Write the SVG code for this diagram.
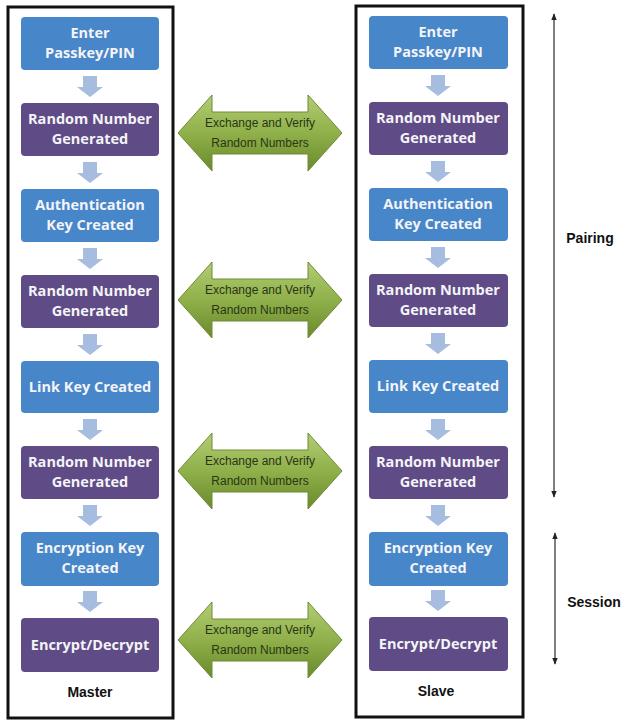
<svg xmlns="http://www.w3.org/2000/svg" width="632" height="726" viewBox="0 0 632 726">
<defs>
<linearGradient id="g" x1="0" y1="0" x2="0" y2="1">
<stop offset="0" stop-color="#b3cd74"/>
<stop offset="0.5" stop-color="#8fb04a"/>
<stop offset="1" stop-color="#6a8a2c"/>
</linearGradient>
<marker id="ah" viewBox="0 0 10 10" refX="9" refY="5" markerWidth="7" markerHeight="7" orient="auto-start-reverse" markerUnits="userSpaceOnUse">
<path d="M0,1 L10,5 L0,9 Z" fill="#222"/>
</marker>
<path id="xa" d="M0,0 L34,-38 L34,-21 L130,-21 L130,-38 L164,0 L130,38 L130,21 L34,21 L34,38 Z"/>
<path id="da" d="M-7,0 L7,0 L7,11 L13,11 L0,21 L-13,11 L-7,11 Z"/>
</defs>
<style>
.frame{fill:#fff;stroke:#111;stroke-width:3}
.blue{fill:#4786c8}
.purple{fill:#5f4b85}
.nt{font-family:"Open Sans","Liberation Sans",sans-serif;font-weight:700;font-size:14.5px;fill:#f4f4f8;text-anchor:middle}
.xt{font-family:"Liberation Sans",sans-serif;font-size:12px;fill:#2a3514;text-anchor:middle}
.lbl{font-family:"Liberation Sans",Arial,sans-serif;font-weight:700;font-size:14px;fill:#111;text-anchor:middle}
.down{fill:#a7bddf}
.xa{fill:url(#g);stroke:#6f8b34;stroke-width:1}
.dim{stroke:#555;stroke-width:1.5;fill:none}
</style>

<rect class="frame" x="8" y="7" width="165" height="711"/>
<rect class="frame" x="356" y="6" width="167" height="711"/>

<g id="connectors">
<use href="#da" class="down" x="90" y="76"/>
<use href="#da" class="down" x="90" y="162"/>
<use href="#da" class="down" x="90" y="248"/>
<use href="#da" class="down" x="90" y="334"/>
<use href="#da" class="down" x="90" y="419"/>
<use href="#da" class="down" x="90" y="505"/>
<use href="#da" class="down" x="90" y="591"/>
<use href="#da" class="down" x="438" y="75"/>
<use href="#da" class="down" x="438" y="161"/>
<use href="#da" class="down" x="438" y="247"/>
<use href="#da" class="down" x="438" y="333"/>
<use href="#da" class="down" x="438" y="419"/>
<use href="#da" class="down" x="438" y="505"/>
<use href="#da" class="down" x="438" y="590"/>
</g>

<g id="exchange1"><use href="#xa" class="xa" x="178" y="133"/><text class="xt" x="260" y="127">Exchange and Verify</text><text class="xt" x="260" y="147">Random Numbers</text></g>
<g id="exchange2"><use href="#xa" class="xa" x="178" y="300"/><text class="xt" x="260" y="294">Exchange and Verify</text><text class="xt" x="260" y="314">Random Numbers</text></g>
<g id="exchange3"><use href="#xa" class="xa" x="178" y="471"/><text class="xt" x="260" y="465">Exchange and Verify</text><text class="xt" x="260" y="485">Random Numbers</text></g>
<g id="exchange4"><use href="#xa" class="xa" x="178" y="640"/><text class="xt" x="260" y="634">Exchange and Verify</text><text class="xt" x="260" y="654">Random Numbers</text></g>

<g id="m1"><rect class="blue" x="21" y="17" width="138" height="53" rx="4"/><text class="nt" x="90" y="38">Enter</text><text class="nt" x="90" y="58">Passkey/PIN</text></g>
<g id="m2"><rect class="purple" x="21" y="103" width="138" height="53" rx="4"/><text class="nt" x="90" y="124">Random Number</text><text class="nt" x="90" y="144">Generated</text></g>
<g id="m3"><rect class="blue" x="21" y="189" width="138" height="53" rx="4"/><text class="nt" x="90" y="210">Authentication</text><text class="nt" x="90" y="230">Key Created</text></g>
<g id="m4"><rect class="purple" x="21" y="275" width="138" height="53" rx="4"/><text class="nt" x="90" y="296">Random Number</text><text class="nt" x="90" y="316">Generated</text></g>
<g id="m5"><rect class="blue" x="21" y="361" width="138" height="52" rx="4"/><text class="nt" x="90" y="392">Link Key Created</text></g>
<g id="m6"><rect class="purple" x="21" y="446" width="138" height="53" rx="4"/><text class="nt" x="90" y="467">Random Number</text><text class="nt" x="90" y="487">Generated</text></g>
<g id="m7"><rect class="blue" x="21" y="532" width="138" height="54" rx="4"/><text class="nt" x="90" y="553">Encryption Key</text><text class="nt" x="90" y="573">Created</text></g>
<g id="m8"><rect class="purple" x="21" y="618" width="138" height="54" rx="4"/><text class="nt" x="90" y="650">Encrypt/Decrypt</text></g>

<g id="s1"><rect class="blue" x="369" y="16" width="139" height="53" rx="4"/><text class="nt" x="438" y="37">Enter</text><text class="nt" x="438" y="57">Passkey/PIN</text></g>
<g id="s2"><rect class="purple" x="369" y="102" width="139" height="53" rx="4"/><text class="nt" x="438" y="123">Random Number</text><text class="nt" x="438" y="143">Generated</text></g>
<g id="s3"><rect class="blue" x="369" y="188" width="139" height="53" rx="4"/><text class="nt" x="438" y="209">Authentication</text><text class="nt" x="438" y="229">Key Created</text></g>
<g id="s4"><rect class="purple" x="369" y="274" width="139" height="53" rx="4"/><text class="nt" x="438" y="295">Random Number</text><text class="nt" x="438" y="315">Generated</text></g>
<g id="s5"><rect class="blue" x="369" y="360" width="139" height="53" rx="4"/><text class="nt" x="438" y="391">Link Key Created</text></g>
<g id="s6"><rect class="purple" x="369" y="446" width="139" height="53" rx="4"/><text class="nt" x="438" y="467">Random Number</text><text class="nt" x="438" y="487">Generated</text></g>
<g id="s7"><rect class="blue" x="369" y="532" width="139" height="54" rx="4"/><text class="nt" x="438" y="553">Encryption Key</text><text class="nt" x="438" y="573">Created</text></g>
<g id="s8"><rect class="purple" x="369" y="617" width="139" height="54" rx="4"/><text class="nt" x="438" y="649">Encrypt/Decrypt</text></g>

<text class="lbl" x="90" y="697">Master</text>
<text class="lbl" x="436" y="696">Slave</text>

<g id="pairing"><line class="dim" x1="554" y1="14" x2="554" y2="497" marker-start="url(#ah)" marker-end="url(#ah)"/><text class="lbl" x="590" y="243">Pairing</text></g>
<g id="session"><line class="dim" x1="555" y1="533" x2="555" y2="664" marker-start="url(#ah)" marker-end="url(#ah)"/><text class="lbl" x="594" y="607">Session</text></g>
</svg>
